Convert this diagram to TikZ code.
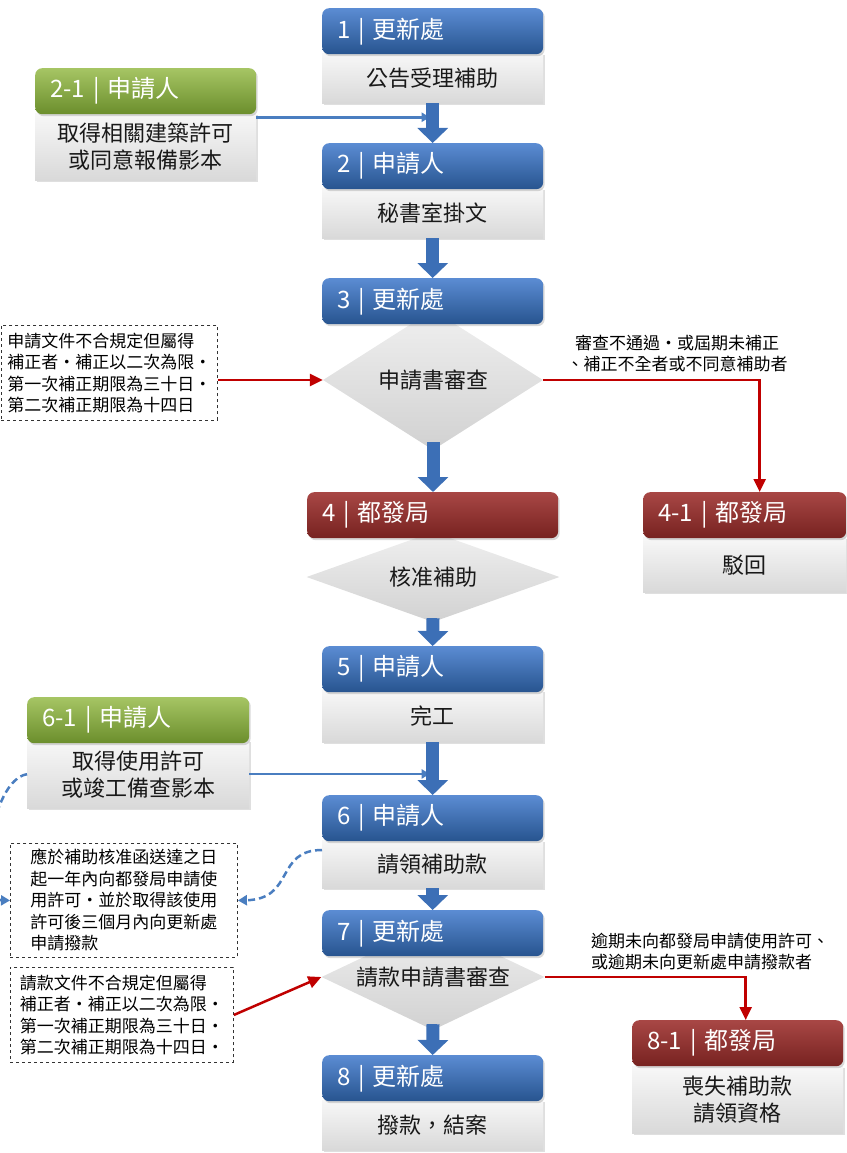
\documentclass[tikz,border=0pt]{standalone}
\usepackage{fontspec}
\setmainfont{Noto Sans CJK TC}
\usetikzlibrary{shapes.geometric,arrows.meta,shadows,calc}
\definecolor{blueT}{HTML}{5B8CD3}
\definecolor{blueB}{HTML}{27548F}
\definecolor{greenT}{HTML}{A6C564}
\definecolor{greenB}{HTML}{6B8E2C}
\definecolor{redT}{HTML}{A84745}
\definecolor{redB}{HTML}{772220}
\definecolor{arrblue}{HTML}{3C6FB6}
\definecolor{lineblue}{HTML}{4A7EC0}
\definecolor{redline}{HTML}{C00000}
\begin{document}
\begin{tikzpicture}[x=1pt,y=-1pt,
  hdr/.style={anchor=north west, rounded corners=7pt, inner xsep=15pt, inner ysep=0pt,
    minimum height=46pt, text=white, font=\fontsize{24}{27}\selectfont, align=left,
    drop shadow={opacity=0.3, shadow xshift=1.5pt, shadow yshift=-2pt}},
  bluehdr/.style={hdr, top color=blueT, bottom color=blueB},
  greenhdr/.style={hdr, top color=greenT, bottom color=greenB},
  redhdr/.style={hdr, top color=redT, bottom color=redB},
  bodybox/.style={anchor=north west, inner sep=0pt, top color=gray!6, bottom color=gray!30,
    font=\fontsize{22}{27}\selectfont, align=center, text=black!90,
    drop shadow={opacity=0.25, shadow xshift=1.5pt, shadow yshift=-2pt}},
  dia/.style={shape=diamond, inner sep=0pt, top color=gray!12, bottom color=gray!36,
    font=\fontsize{22}{26}\selectfont, text=black!90},
  note/.style={anchor=north west, draw=black!80, dashed, line width=0.9pt, inner xsep=6pt,
    inner ysep=3pt, font=\fontsize{17}{21.5}\selectfont, align=left},
  lbl/.style={font=\fontsize{17}{21}\selectfont, inner sep=0pt},
  blockarr/.style={draw=arrblue, line width=13pt, -{Triangle[width=30pt,length=15pt]}},
  lblue/.style={draw=lineblue, line width=2.5pt, -{Triangle[width=9pt,length=8pt]}},
  dblue/.style={draw=lineblue, line width=2.5pt, dash pattern=on 7pt off 4pt, -{Triangle[width=10pt,length=9pt]}},
  redarr/.style={draw=redline, line width=2.5pt, -{Triangle[width=12pt,length=13pt]}}
]
\useasboundingbox (0,0) rectangle (846,1153);

% bodies
\node[bodybox, minimum width=221pt, minimum height=50pt] (b1) at (322,53) {公告受理補助};
\node[bodybox, minimum width=221pt, minimum height=67pt] (b21) at (35,113) {取得相關建築許可\\或同意報備影本};
\node[bodybox, minimum width=221pt, minimum height=50pt] (b2) at (322,188) {秘書室掛文};
\node[bodybox, minimum width=203pt, minimum height=55pt] (b41) at (643,537) {駁回};
\node[bodybox, minimum width=221pt, minimum height=52pt] (b5) at (322,690) {完工};
\node[bodybox, minimum width=222pt, minimum height=68pt] (b61) at (27,740) {取得使用許可\\或竣工備查影本};
\node[bodybox, minimum width=221pt, minimum height=48pt] (b6) at (322,840) {請領補助款};
\node[bodybox, minimum width=221pt, minimum height=50pt] (b8) at (322,1100) {撥款，結案};
\node[bodybox, minimum width=211pt, minimum height=67pt] (b81) at (632,1066) {喪失補助款\\請領資格};

% diamonds
\node[dia, minimum width=220pt, minimum height=140pt] (d1) at (433,380) {\makebox[0pt]{申請書審查}};
\node[dia, minimum width=253pt, minimum height=90pt] (d2) at (433,577) {\makebox[0pt]{核准補助}};
\node[dia, minimum width=223pt, minimum height=106pt] (d3) at (433,977) {\makebox[0pt]{請款申請書審查}};

% headers
\node[bluehdr, minimum width=221pt, text width=191pt] (h1) at (322,8) {1 | 更新處};
\node[greenhdr, minimum width=221pt, text width=191pt] (h21) at (35,68) {2-1 | 申請人};
\node[bluehdr, minimum width=221pt, text width=191pt] (h2) at (322,143) {2 | 申請人};
\node[bluehdr, minimum width=221pt, text width=191pt] (h3) at (322,278) {3 | 更新處};
\node[redhdr, minimum width=251pt, text width=221pt] (h4) at (307,492) {4 | 都發局};
\node[redhdr, minimum width=203pt, text width=173pt] (h41) at (643,492) {4-1 | 都發局};
\node[bluehdr, minimum width=221pt, text width=191pt] (h5) at (322,646) {5 | 申請人};
\node[greenhdr, minimum width=222pt, text width=192pt] (h61) at (27,697) {6-1 | 申請人};
\node[bluehdr, minimum width=221pt, text width=191pt] (h6) at (322,795) {6 | 申請人};
\node[bluehdr, minimum width=221pt, text width=191pt] (h7) at (322,910) {7 | 更新處};
\node[bluehdr, minimum width=221pt, text width=191pt] (h8) at (322,1055) {8 | 更新處};
\node[redhdr, minimum width=211pt, text width=181pt] (h81) at (632,1020) {8-1 | 都發局};

% notes
\node[note, minimum width=216pt, minimum height=95pt] (n1) at (1,325)
  {申請文件不合規定但屬得\\補正者‧補正以二次為限‧\\第一次補正期限為三十日‧\\第二次補正期限為十四日};
\node[note, minimum width=227pt, minimum height=114pt] (n2) at (10,843)
  {應於補助核准函送達之日\\起一年內向都發局申請使\\用許可‧並於取得該使用\\許可後三個月內向更新處\\申請撥款};
\node[note, minimum width=223pt, minimum height=95pt] (n3) at (10,967)
  {請款文件不合規定但屬得\\補正者‧補正以二次為限‧\\第一次補正期限為三十日‧\\第二次補正期限為十四日‧};

% labels
\node[lbl, align=center] (l1) at (677,354) {審查不通過‧或屆期未補正\\、補正不全者或不同意補助者};
\node[lbl, align=left, anchor=west] (l2) at (591,952) {逾期未向都發局申請使用許可、\\或逾期未向更新處申請撥款者};

% side connectors
\coordinate (a1) at ($(b1.south)!0.35!(h2.north)$);
\coordinate (a2) at ($(b5.south)!0.6!(h6.north)$);
\draw[lblue, shorten >=3pt] (b21.north east |- a1) -- (a1);
\draw[lblue, shorten >=3pt] (b61.east |- a2) -- (a2);

% red connectors
\draw[redarr] (d1.west -| n1.east) -- (d1.west);
\draw[redarr] (d1.east) -| ($(h41.north)+(15,0)$);
\draw[redarr] (n3.east) -- (d3.west);
\draw[redarr] (d3.east) -| ($(h81.north)+(8,0)$);

% dashed blue curves
\draw[dblue] ($(b6.north west)+(0,10)$) .. controls (275,850) and (295,899) .. (n2.east);
\draw[dblue] (b61.west) .. controls (-10,780) and (-25,900) .. (n2.west);

% block arrows
\draw[blockarr] (b1.south) -- (h2.north);
\draw[blockarr] (b2.south) -- (h3.north);
\draw[blockarr] ($(d1.south)+(0,-8)$) -- (h4.north -| d1.south);
\draw[blockarr] ($(d2.south)+(0,-4)$) -- (h5.north);
\draw[blockarr] (b5.south) -- (h6.north);
\draw[blockarr] (b6.south) -- (h7.north);
\draw[blockarr] ($(d3.south)+(0,-6)$) -- (h8.north);
\end{tikzpicture}
\end{document}
